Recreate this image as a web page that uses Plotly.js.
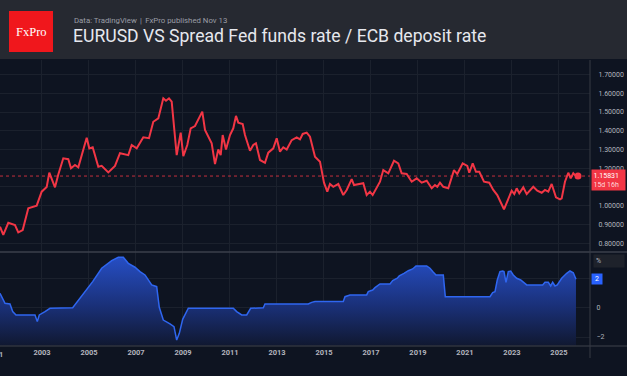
<!DOCTYPE html>
<html>
<head>
<meta charset="utf-8">
<script src="https://cdn.plot.ly/plotly-3.0.1.min.js"></script>
<style>
html,body{margin:0;padding:0;background:#0e1421;}
#chart{width:627px;height:376px;}
</style>
</head>
<body>
<div id="chart"></div>
<script>
// ---- Data ----
const eurDates = [2001.213,2001.353,2001.566,2001.851,2001.991,2002.179,2002.417,2002.774,2002.987,2003.200,2003.311,2003.553,2003.694,2003.906,2004.119,2004.234,2004.404,2004.545,2004.902,2005.013,2005.157,2005.396,2005.540,2005.821,2006.106,2006.319,2006.672,2006.817,2007.030,2007.311,2007.553,2007.736,2007.949,2008.162,2008.277,2008.404,2008.519,2008.587,2008.732,2008.902,2009.013,2009.183,2009.328,2009.511,2009.694,2009.821,2009.936,2010.119,2010.221,2010.362,2010.502,2010.604,2010.689,2010.830,2011.000,2011.140,2011.255,2011.353,2011.540,2011.638,2011.736,2011.851,2011.991,2012.106,2012.277,2012.489,2012.630,2012.843,2012.987,2013.128,2013.268,2013.413,2013.626,2013.838,2013.979,2014.094,2014.264,2014.404,2014.617,2014.830,2015.000,2015.140,2015.255,2015.396,2015.609,2015.821,2015.966,2016.179,2016.277,2016.460,2016.672,2016.817,2016.957,2017.072,2017.243,2017.383,2017.523,2017.736,2017.979,2018.162,2018.306,2018.519,2018.732,2018.945,2019.157,2019.370,2019.583,2019.723,2019.821,2019.936,2020.077,2020.289,2020.532,2020.672,2020.902,2021.098,2021.183,2021.328,2021.468,2021.609,2021.809,2022.034,2022.204,2022.374,2022.660,2022.843,2022.987,2023.098,2023.200,2023.311,2023.481,2023.626,2023.766,2023.906,2024.077,2024.264,2024.404,2024.545,2024.689,2024.872,2025.043,2025.115,2025.255,2025.396,2025.498,2025.609,2025.723,2025.809];
const eurValues = [0.888,0.844,0.909,0.897,0.858,0.870,0.986,1.000,1.075,1.100,1.176,1.098,1.167,1.253,1.248,1.200,1.217,1.205,1.363,1.306,1.312,1.208,1.213,1.178,1.212,1.280,1.270,1.324,1.306,1.365,1.360,1.448,1.466,1.573,1.560,1.573,1.555,1.457,1.270,1.390,1.265,1.324,1.413,1.425,1.466,1.502,1.404,1.360,1.333,1.222,1.300,1.270,1.377,1.300,1.377,1.413,1.479,1.443,1.436,1.377,1.342,1.293,1.324,1.333,1.244,1.229,1.283,1.306,1.360,1.288,1.312,1.300,1.350,1.365,1.354,1.383,1.390,1.368,1.261,1.235,1.123,1.075,1.116,1.101,1.116,1.057,1.084,1.142,1.110,1.114,1.120,1.057,1.075,1.057,1.101,1.128,1.190,1.173,1.240,1.226,1.173,1.169,1.128,1.146,1.123,1.133,1.093,1.110,1.101,1.123,1.101,1.093,1.190,1.169,1.226,1.212,1.176,1.226,1.181,1.181,1.128,1.123,1.084,1.057,0.981,1.039,1.080,1.062,1.093,1.066,1.098,1.062,1.080,1.101,1.080,1.069,1.084,1.075,1.116,1.045,1.034,1.039,1.128,1.176,1.146,1.173,1.158,1.158];

const spreadDates = [2001.213,2001.426,2001.638,2001.753,2001.894,2002.702,2002.800,2002.885,2003.128,2003.340,2004.306,2004.617,2004.872,2005.157,2005.540,2005.966,2006.247,2006.460,2006.672,2006.957,2007.170,2007.383,2007.668,2007.881,2007.991,2008.162,2008.447,2008.617,2008.732,2008.843,2008.987,2009.226,2011.140,2011.285,2011.498,2011.711,2011.881,2012.417,2012.489,2014.332,2014.477,2014.617,2015.821,2015.894,2016.106,2016.817,2016.885,2017.072,2017.170,2017.383,2017.809,2017.923,2018.119,2018.204,2018.404,2018.587,2018.774,2018.915,2019.370,2019.511,2019.626,2019.766,2020.077,2020.162,2022.064,2022.179,2022.277,2022.374,2022.489,2022.604,2022.660,2022.745,2022.843,2022.945,2023.055,2023.200,2023.370,2023.626,2024.306,2024.404,2024.545,2024.647,2024.732,2024.830,2024.928,2025.115,2025.328,2025.468,2025.609,2025.723];
const spreadValues = [1.01,0.32,0.28,-0.25,-0.48,-0.48,-0.94,-0.48,-0.25,-0.02,0.02,0.67,1.19,1.82,2.74,3.26,3.49,3.49,3.08,2.81,2.51,2.28,1.59,1.47,0.05,-0.83,-1.10,-1.29,-2.21,-1.75,-0.78,-0.02,-0.02,-0.25,-0.48,-0.48,-0.02,0.02,0.28,0.28,0.39,0.44,0.44,0.78,0.90,0.90,1.13,1.24,1.40,1.66,1.66,1.89,2.05,2.21,2.39,2.57,2.69,2.90,2.90,2.74,2.51,2.28,2.28,0.78,0.78,1.06,1.13,1.93,2.51,2.55,2.51,1.77,2.51,2.55,2.28,2.05,1.93,1.59,1.59,1.77,1.77,1.52,1.77,1.52,1.59,2.05,2.39,2.55,2.43,1.98];

const yearTicks = [2003,2005,2007,2009,2011,2013,2015,2017,2019,2021,2023,2025];
const yearLabels = ['2003','2005','2007','2009','2011','2013','2015','2017','2019','2021','2023','2025'];
const gridYears = [2001,2003,2005,2007,2009,2011,2013,2015,2017,2019,2021,2023,2025];
const clippedYearLabel = '2001';
const priceTicks = [0.8,0.9,1.0,1.1,1.2,1.3,1.4,1.5,1.6,1.7];
// 1.10000 sits under the last-price label in the reference, so it is left blank
const priceLabels = ['0.80000','0.90000','1.00000','','1.20000','1.30000','1.40000','1.50000','1.60000','1.70000'];
const spreadTicks = [-2,0,2];
const spreadLabels = ['\u22122','0',''];
const lastPrice = 1.15831;
const lastPriceLabel = '1.15831';
const countdownLabel = '15d 16h';
const lastSpreadLabel = '2';
const titleText = 'EURUSD VS Spread Fed funds rate / ECB deposit rate';
const subtitleText = 'Data: TradingView \u2006|\u2006 FxPro published Nov 13';
const logoText = 'FxPro';

// ---- Layout helpers (pixel -> paper) ----
const W = 627, H = 376, ML = 0, MR = 37, MT = 60, MB = 30;
const PW = W - ML - MR, PH = H - MT - MB;
const px = x => (x - ML) / PW;
const py = y => (H - MB - y) / PH;
const split = py(252);
const xRange = [2001.213, 2026.32];
const y1Range = [0.753, 1.7775];
const y2Range = [-2.62, 3.86];
const xToPx = yr => (yr - xRange[0]) / (xRange[1] - xRange[0]) * PW + ML;

const gridC = '#1b212d';
const txtC = '#b2b5be';
const red = '#f23645';

const traces = [
  {x: eurDates, y: eurValues, xaxis:'x', yaxis:'y', type:'scatter', mode:'lines',
   line:{color:red, width:2}, hoverinfo:'skip'},
  {x: [eurDates[eurDates.length-1]], y:[eurValues[eurValues.length-1]], xaxis:'x', yaxis:'y',
   type:'scatter', mode:'markers', marker:{color:red, size:7}, hoverinfo:'skip'},
  {x: [spreadDates[0], spreadDates[spreadDates.length-1]], y:[y2Range[0], y2Range[0]], xaxis:'x', yaxis:'y2',
   type:'scatter', mode:'lines', line:{width:0, color:'rgba(0,0,0,0)'}, hoverinfo:'skip'},
  {x: spreadDates, y: spreadValues, xaxis:'x', yaxis:'y2', type:'scatter', mode:'lines',
   line:{color:'#2f66f0', width:1.5, shape:'linear'}, fill:'tonexty',
   fillgradient:{type:'vertical', start:y2Range[0], stop:3.5,
     colorscale:[[0,'rgb(16,24,48)'],[0.45,'rgb(26,48,120)'],[1,'rgb(38,78,196)']]},
   hoverinfo:'skip'}
];

const shapes = [
  // header band
  {type:'rect', xref:'paper', yref:'paper', x0:px(0), x1:px(W), y0:py(59), y1:py(0), fillcolor:'#262931', line:{width:0}, layer:'below'},
  // logo
  {type:'rect', xref:'paper', yref:'paper', x0:px(9), x1:px(53), y0:py(52), y1:py(11), fillcolor:'#f0171c', line:{width:0}},
  // pane separator and bottom border
  {type:'line', xref:'paper', yref:'paper', x0:px(0), x1:px(W), y0:split, y1:split, line:{color:'#3b3f4b', width:1.5}},
  {type:'line', xref:'paper', yref:'paper', x0:px(0), x1:px(W), y0:py(346), y1:py(346), line:{color:'#2f333e', width:1.5}},
  // right price-scale border
  {type:'line', xref:'paper', yref:'paper', x0:px(590), x1:px(590), y0:py(358), y1:py(60), line:{color:'#363a45', width:1}},
  // last price dotted line
  {type:'line', xref:'paper', yref:'y', x0:0, x1:px(590), y0:lastPrice, y1:lastPrice, line:{color:red, width:0.8, dash:'dot'}}
];

const layout = {
  width: W, height: H,
  margin:{l:ML, r:MR, t:MT, b:MB, pad:0},
  paper_bgcolor:'#0e1421', plot_bgcolor:'#0e1421',
  showlegend:false,
  font:{family:'Roboto, Arial, sans-serif', color:txtC},
  xaxis:{range:xRange, tickvals:gridYears, ticktext:gridYears.map(y => yearTicks.includes(y) ? yearLabels[yearTicks.indexOf(y)] : ''),
    showgrid:true, gridcolor:gridC, gridwidth:1,
    zeroline:false, showline:false, ticks:'', anchor:'y2',
    tickfont:{size:7.5, color:txtC, weight:700, family:'Roboto, Arial, sans-serif'}},
  yaxis:{domain:[split,1], range:y1Range, side:'right', tickvals:priceTicks, ticktext:priceLabels,
    showgrid:true, gridcolor:gridC, zeroline:false, showline:false, ticks:'outside', ticklen:6, tickcolor:'rgba(0,0,0,0)',
    tickfont:{size:7, color:txtC}, anchor:'x'},
  yaxis2:{domain:[0,split], range:y2Range, side:'right', tickvals:spreadTicks, ticktext:spreadLabels,
    showgrid:true, gridcolor:gridC, zeroline:false, showline:false, ticks:'outside', ticklen:4, tickcolor:'rgba(0,0,0,0)',
    tickfont:{size:7, color:txtC}, anchor:'x'},
  shapes: shapes,
  annotations:[
    {xref:'paper', yref:'paper', x:px(31), y:py(32), text:logoText, showarrow:false, xanchor:'center', yanchor:'middle',
     font:{family:'Liberation Serif, Times New Roman, serif', size:12.5, color:'#ffffff'}},
    {xref:'paper', yref:'paper', x:px(72), y:py(20), text:subtitleText, showarrow:false, xanchor:'left', yanchor:'middle',
     font:{size:7.8, color:'#9a9da6'}},
    {xref:'paper', yref:'paper', x:px(71), y:py(36), text:titleText, showarrow:false, xanchor:'left', yanchor:'middle',
     font:{size:17.6, color:'#e6e8ee'}},
    // 2001 label, mostly cut off by the left edge as in the reference
    {xref:'paper', yref:'paper', x:px(xToPx(gridYears[0])), y:py(354), text:clippedYearLabel, showarrow:false,
     xanchor:'center', yanchor:'middle', font:{size:7.5, color:txtC, weight:700}},
    {xref:'paper', yref:'y', x:px(591), y:lastPrice, yshift:-4, text:lastPriceLabel + '<br><span style="color:#ffd9dc">' + countdownLabel + '</span>',
     showarrow:false, xanchor:'left', yanchor:'middle', align:'left', bgcolor:red, borderpad:1.5, width:30,
     font:{size:7, color:'#ffffff'}},
    {xref:'paper', yref:'y2', x:px(591), y:spreadValues[spreadValues.length-1], text:lastSpreadLabel, showarrow:false,
     xanchor:'left', yanchor:'middle', align:'center', bgcolor:'#2962ff', borderpad:1, width:8,
     font:{size:7, color:'#ffffff'}},
    {xref:'paper', yref:'paper', x:px(593), y:py(261), text:'%', showarrow:false, xanchor:'left', yanchor:'middle',
     align:'left', bgcolor:'#1e222b', borderpad:2, width:26, font:{size:7, color:txtC}}
  ]
};

Plotly.newPlot('chart', traces, layout, {staticPlot:true, displayModeBar:false});
</script>
</body>
</html>
